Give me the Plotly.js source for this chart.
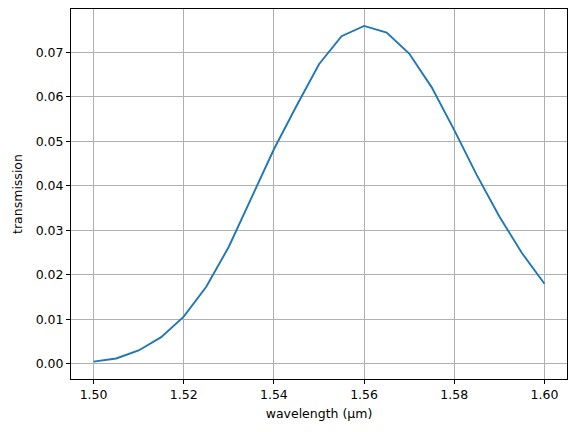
<!DOCTYPE html>
<html>
<head>
<meta charset="utf-8">
<script src="https://cdn.plot.ly/plotly-3.0.1.min.js"></script>
<style>
  body { margin: 0; }
  #chart { width: 576px; height: 432px; }
</style>
</head>
<body>
<div id="chart"></div>
<script>
const wavelength = [1.500, 1.505, 1.510, 1.515, 1.520, 1.525, 1.530, 1.535, 1.540, 1.545,
                    1.550, 1.555, 1.560, 1.565, 1.570, 1.575, 1.580, 1.585, 1.590, 1.595, 1.600];
const transmission = [0.0005, 0.0012, 0.0030, 0.0060, 0.0106, 0.0173, 0.0263, 0.0373, 0.0482, 0.0579,
                      0.0673, 0.0736, 0.0759, 0.0744, 0.0697, 0.0621, 0.0525, 0.0424, 0.0331, 0.0249, 0.0180];

const axisStyle = {
    showline: true,
    mirror: true,
    linecolor: "black",
    linewidth: 1,
    ticks: "outside",
    ticklen: 4,
    tickcolor: "black",
    showgrid: true,
    gridcolor: "#b0b0b0",
    gridwidth: 1,
    zeroline: false,
    tickfont: {family: "DejaVu Sans", size: 12.5, color: "black"}
};

Plotly.newPlot("chart", [{
    x: wavelength,
    y: transmission,
    type: "scatter",
    mode: "lines",
    line: {color: "#1f77b4", width: 1.9}
}], {
    width: 576,
    height: 432,
    margin: {l: 71, r: 9, t: 9, b: 53},
    paper_bgcolor: "white",
    plot_bgcolor: "white",
    showlegend: false,
    font: {family: "DejaVu Sans", color: "black"},
    xaxis: Object.assign({}, axisStyle, {
        range: [1.495, 1.605],
        tickvals: [1.50, 1.52, 1.54, 1.56, 1.58, 1.60],
        tickformat: ".2f",
        title: {text: "wavelength (μm)", font: {family: "DejaVu Sans", size: 12.5}, standoff: 8}
    }),
    yaxis: Object.assign({}, axisStyle, {
        range: [-0.0034, 0.0797],
        tickvals: [0, 0.01, 0.02, 0.03, 0.04, 0.05, 0.06, 0.07],
        tickformat: ".2f",
        title: {text: "transmission", font: {family: "DejaVu Sans", size: 12.5}, standoff: 10}
    })
}, {staticPlot: true});
</script>
</body>
</html>
